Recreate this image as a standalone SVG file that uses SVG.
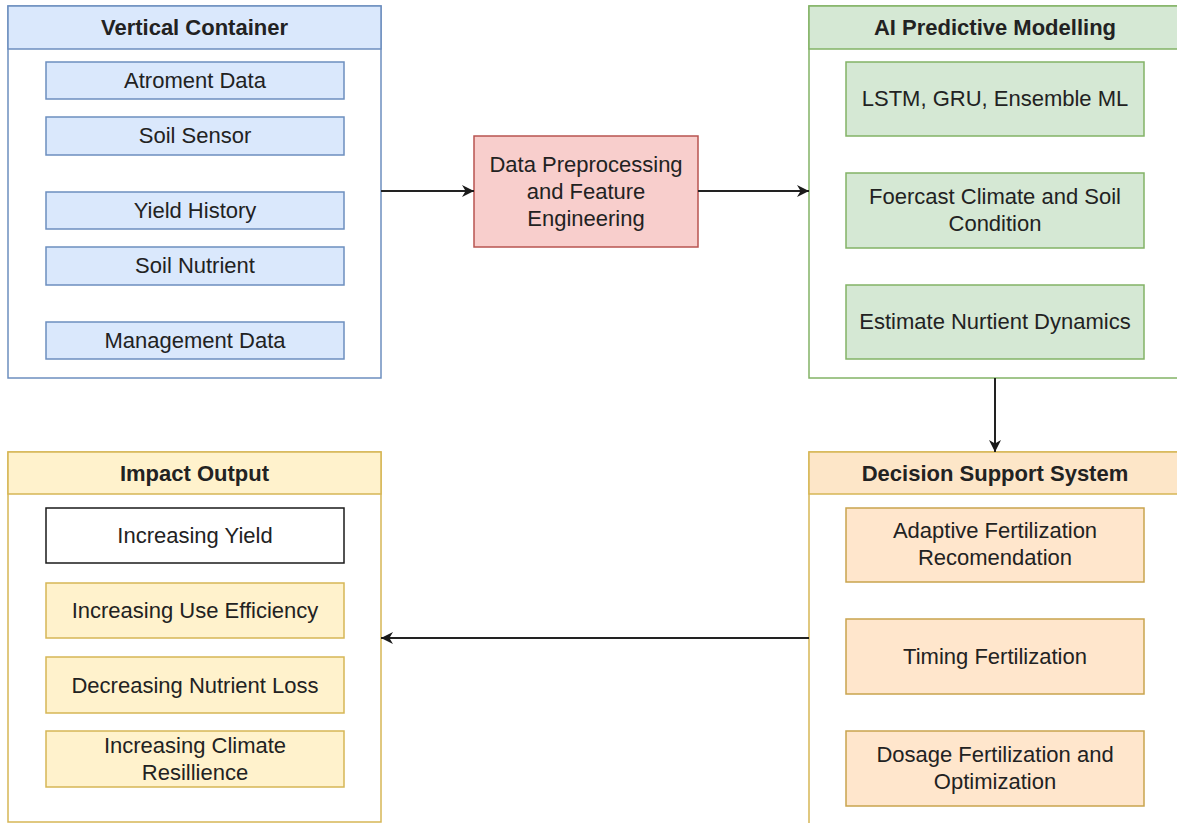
<svg xmlns="http://www.w3.org/2000/svg" width="1177" height="823" viewBox="0 0 1177 823">
<defs>
<style>
text{font-family:"Liberation Sans",Arial,sans-serif;font-size:22px;fill:#222222;text-anchor:middle}
.hd{font-weight:bold}
.blue{fill:#dae8fc;stroke:#6c8ebf;stroke-width:1.5}
.green{fill:#d5e8d4;stroke:#82b366;stroke-width:1.5}
.red{fill:#f8cecc;stroke:#b85450;stroke-width:1.5}
.org{fill:#ffe6cc;stroke:#c9a44e;stroke-width:1.5}
.ylw{fill:#fff2cc;stroke:#d6b656;stroke-width:1.5}
.plainW{fill:#ffffff;stroke:#1a1a1a;stroke-width:1.5}
.edge{fill:none;stroke:#222222;stroke-width:2}
</style>
<marker id="arr" viewBox="0 0 10 10" refX="10" refY="5" markerWidth="13" markerHeight="12" markerUnits="userSpaceOnUse" orient="auto">
<path d="M0,0 L10,5 L0,10 L3,5 z" fill="#1a1a1a"/>
</marker>
</defs>
<rect width="1177" height="823" fill="#ffffff"/>

<g id="vertical-container">
<rect x="8" y="6" width="373" height="372" fill="#ffffff" stroke="#6c8ebf" stroke-width="1.5"/>
<rect x="8" y="6" width="373" height="43" class="blue"/>
<text x="194.5" y="35" class="hd">Vertical Container</text>
</g>
<g id="atroment-data"><rect x="46" y="62" width="298" height="37" class="blue"/><text x="195" y="88">Atroment Data</text></g>
<g id="soil-sensor"><rect x="46" y="117" width="298" height="38" class="blue"/><text x="195" y="143">Soil Sensor</text></g>
<g id="yield-history"><rect x="46" y="192" width="298" height="37" class="blue"/><text x="195" y="218">Yield History</text></g>
<g id="soil-nutrient"><rect x="46" y="247" width="298" height="38" class="blue"/><text x="195" y="273">Soil Nutrient</text></g>
<g id="management-data"><rect x="46" y="322" width="298" height="37" class="blue"/><text x="195" y="348">Management Data</text></g>

<g id="data-preprocessing">
<rect x="474" y="136" width="224" height="111" class="red"/>
<text x="586" y="172">Data Preprocessing</text>
<text x="586" y="199">and Feature</text>
<text x="586" y="226">Engineering</text>
</g>

<g id="ai-predictive-modelling">
<rect x="809" y="6" width="373" height="372" fill="#ffffff" stroke="#82b366" stroke-width="1.5"/>
<rect x="809" y="6" width="373" height="43" class="green"/>
<text x="995" y="35" class="hd">AI Predictive Modelling</text>
</g>
<g id="lstm"><rect x="846" y="62" width="298" height="74" class="green"/><text x="995" y="106">LSTM, GRU, Ensemble ML</text></g>
<g id="forecast"><rect x="846" y="173" width="298" height="75" class="green"/><text x="995" y="204">Foercast Climate and Soil</text><text x="995" y="231">Condition</text></g>
<g id="estimate"><rect x="846" y="285" width="298" height="74" class="green"/><text x="995" y="329">Estimate Nurtient Dynamics</text></g>

<g id="decision-support-system">
<rect x="809" y="452" width="373" height="372" fill="#ffffff" stroke="#d6b656" stroke-width="1.5"/>
<rect x="809" y="452" width="373" height="42" fill="#fde6c8" stroke="#d6b656" stroke-width="1.5"/>
<text x="995" y="481" class="hd">Decision Support System</text>
</g>
<g id="adaptive"><rect x="846" y="508" width="298" height="74" class="org"/><text x="995" y="538">Adaptive Fertilization</text><text x="995" y="565">Recomendation</text></g>
<g id="timing"><rect x="846" y="619" width="298" height="75" class="org"/><text x="995" y="664">Timing Fertilization</text></g>
<g id="dosage"><rect x="846" y="731" width="298" height="75" class="org"/><text x="995" y="762">Dosage Fertilization and</text><text x="995" y="789">Optimization</text></g>

<g id="impact-output">
<rect x="8" y="452" width="373" height="370" fill="#ffffff" stroke="#d6b656" stroke-width="1.5"/>
<rect x="8" y="452" width="373" height="42" class="ylw"/>
<text x="194.5" y="481" class="hd">Impact Output</text>
</g>
<g id="increasing-yield"><rect x="46" y="508" width="298" height="55" class="plainW"/><text x="195" y="543">Increasing Yield</text></g>
<g id="use-efficiency"><rect x="46" y="583" width="298" height="55" class="ylw"/><text x="195" y="618">Increasing Use Efficiency</text></g>
<g id="nutrient-loss"><rect x="46" y="657" width="298" height="56" class="ylw"/><text x="195" y="693">Decreasing Nutrient Loss</text></g>
<g id="climate-resilience"><rect x="46" y="731" width="298" height="56" class="ylw"/><text x="195" y="753">Increasing Climate</text><text x="195" y="780">Resillience</text></g>

<g id="connectors">
<line x1="381" y1="191" x2="474" y2="191" class="edge" marker-end="url(#arr)"/>
<line x1="698" y1="191" x2="809" y2="191" class="edge" marker-end="url(#arr)"/>
<line x1="995" y1="378" x2="995" y2="452" class="edge" marker-end="url(#arr)"/>
<line x1="809" y1="638" x2="381" y2="638" class="edge" marker-end="url(#arr)"/>
</g>
</svg>
